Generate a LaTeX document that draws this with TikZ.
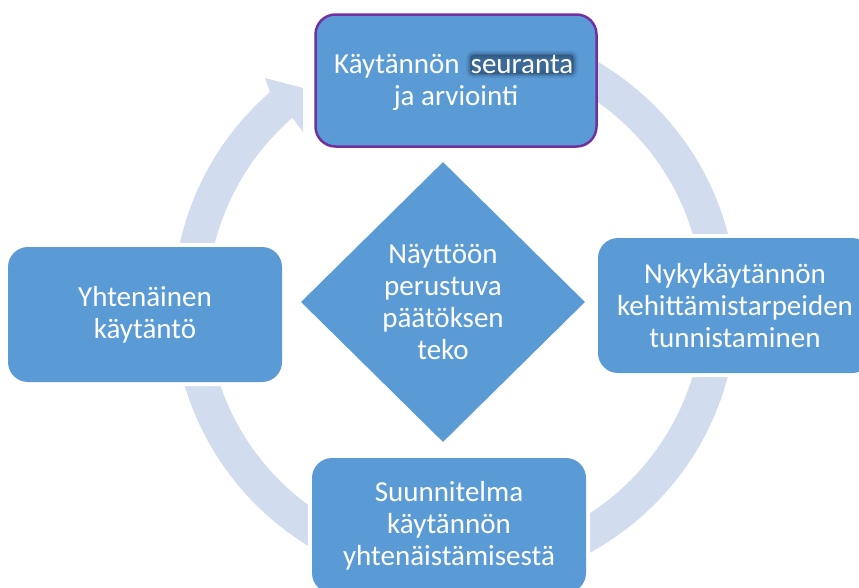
\documentclass[tikz,border=0pt]{standalone}
\usepackage{fontspec}
\setmainfont{Carlito}
\usetikzlibrary{shapes.geometric}
\definecolor{boxblue}{RGB}{91,155,213}
\definecolor{ringblue}{RGB}{209,221,238}
\definecolor{purpleedge}{RGB}{112,48,160}
\definecolor{glowc}{RGB}{40,76,114}
\newcommand{\glowword}[1]{\tikz[baseline=(g.base)]\node[rectangle, minimum width=0pt, minimum height=0pt, draw=none, line width=0.4pt,
  inner xsep=0pt, inner ysep=0pt, outer sep=0pt, rounded corners=3pt, fill=glowc, fill opacity=.6, text opacity=1, text=white,
  preaction={draw=glowc, draw opacity=.15, line width=9pt},
  preaction={draw=glowc, draw opacity=.25, line width=5pt},
  preaction={draw=glowc, draw opacity=.35, line width=2pt}] (g) {#1};}
\tikzset{
  stepbox/.style={rectangle, rounded corners=20pt, minimum width=274pt, minimum height=135pt,
    fill=boxblue, text=white, align=center, inner sep=0pt,
    font=\fontsize{29}{32}\selectfont},
  whiteedge/.style={preaction={draw=white, line width=8pt}},
  centerdiamond/.style={diamond, minimum width=284pt, minimum height=280pt, inner sep=0pt,
    fill=boxblue, text=white, align=center, font=\fontsize{29}{32}\selectfont},
  ringfill/.style={fill=ringblue}
}
\begin{document}
\begin{tikzpicture}[x=1pt,y=-1pt]
\useasboundingbox (0,0) rectangle (859,587);
% cycle ring with arrow head
\begin{scope}[shift={(455,305)}]
\fill[ringfill] (-100:248) arc[start angle=-100, end angle=229, radius=248]
  -- (-152,-173) -- (-152,-217) -- (-190,-227)
  -- (229:282) arc[start angle=229, end angle=-100, radius=282] -- cycle;
\end{scope}
% boxes
\node[stepbox, minimum width=281pt, minimum height=132pt, draw=purpleedge, line width=2.5pt] (top) at (456,80.5)
  {Käytännön \glowword{seuranta}\\ja arviointi};
\node[stepbox, whiteedge] (right) at (735,305.5) {Nykykäytännön\\kehittämistarpeiden\\tunnistaminen};
\node[stepbox, whiteedge] (bottom) at (449,525.5) {Suunnitelma\\käytännön\\yhtenäistämisestä};
\node[stepbox, whiteedge] (left) at (145,314.5) {Yhtenäinen\\käytäntö};
\node[centerdiamond] (mid) at (443,302) {Näyttöön\\perustuva\\päätöksen\\teko};
\end{tikzpicture}
\end{document}
